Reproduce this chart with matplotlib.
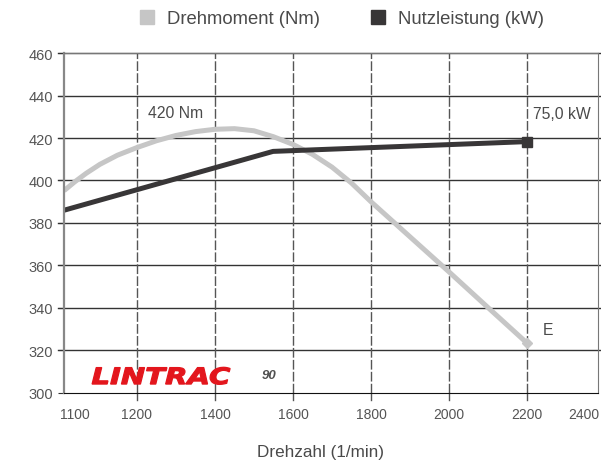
import matplotlib.pyplot as plt
from matplotlib.lines import Line2D
from matplotlib.textpath import TextPath
from matplotlib.patches import PathPatch
from matplotlib.font_manager import FontProperties
from matplotlib.transforms import Affine2D

plt.rcParams['font.family'] = ['Liberation Sans', 'DejaVu Sans']

# Drehmoment (Nm) over Drehzahl
rpm_torque = [1013, 1040, 1070, 1105, 1150, 1200, 1250, 1300, 1350, 1400, 1450,
              1500, 1550, 1600, 1650, 1700, 1750, 1800, 1900, 2000, 2100, 2200]
torque = [395.2, 399.3, 403.4, 407.6, 411.9, 415.5, 418.7, 421.2, 423.0, 424.1, 424.4,
          423.4, 420.6, 417.0, 412.3, 406.3, 398.8, 390.0, 373.5, 357.0, 340.2, 323.5]

# Nutzleistung curve (on the same scale)
rpm_power = [1013, 1549, 2200]
power = [386.0, 413.7, 418.3]

grid_x = [1200, 1400, 1600, 1800, 2000, 2200]
edge_x = [1041, 2346]
edge_labels = ['1100', '2400']
y_ticks = [300, 320, 340, 360, 380, 400, 420, 440, 460]

LIGHT = '#c6c6c6'
DARK = '#383637'
TXT = '#4a4a4a'

fig = plt.figure(figsize=(6.01, 4.64), dpi=100)
ax = fig.add_axes([0.1065, 0.1509, 0.8885, 0.7327])

ax.set_xlim(1013, 2382)
ax.set_ylim(300, 460)

# horizontal grid, running a bit past the frame
for y in y_ticks[1:]:
    ax.plot([-0.012, 1.02], [y, y], transform=ax.get_yaxis_transform(),
            color='#333333', lw=1.0, clip_on=False, zorder=1)
# vertical dashed grid, down through the bottom axis
for x in grid_x:
    ax.plot([x, x], [0, -0.02], transform=ax.get_xaxis_transform(),
            color='#555555', lw=1.0, clip_on=False, zorder=1)
    ax.axvline(x, color='#555555', lw=1.0, dashes=(7, 1.6), zorder=1)

ax.plot(rpm_torque, torque, color=LIGHT, lw=3.6, solid_capstyle='butt',
        solid_joinstyle='round', zorder=3)
ax.plot(rpm_torque[-1], torque[-1], marker='D', ms=5, color=LIGHT, zorder=3)
ax.plot(rpm_power, power, color=DARK, lw=3.6, solid_capstyle='butt', zorder=4)
ax.plot(rpm_power[-1], power[-1], marker='s', ms=7, color=DARK, zorder=4)

ax.text(1228, 432, '420 Nm', fontsize=11.3, color=TXT, va='center')
ax.text(2215, 431.5, '75,0 kW', fontsize=11.3, color=TXT, va='center')
ax.text(2241, 330, 'E', fontsize=11.3, color=TXT, va='center')

# logo, stretched a little wider than the plain font
fig.canvas.draw()
logo = TextPath((0, 0), 'LINTRAC', size=1,
                prop=FontProperties(family='DejaVu Sans', weight='bold', style='italic'))
bb = logo.get_extents()
x0, y0 = ax.transData.transform((1085, 304.2))
logo_tr = Affine2D().translate(-bb.x0, 0).scale(138 / bb.width, 16.5 / 0.73) + Affine2D().translate(x0, y0)
fig.patches.append(PathPatch(logo, transform=logo_tr, facecolor='#e3161d',
                             edgecolor='#e3161d', lw=0.9, zorder=6))
ax.text(1520, 308.5, '90', fontsize=9.5, color='#505050', fontweight='bold',
        fontstyle='italic', va='center')

ax.set_xticks(grid_x)
ax.set_xticklabels([str(v) for v in grid_x])
ax.set_xticks(edge_x, minor=True)
ax.set_xticklabels(edge_labels, minor=True)
ax.tick_params(axis='x', which='both', length=0, pad=10, labelsize=10, labelcolor='#555555')
ax.set_yticks(y_ticks)
ax.tick_params(axis='y', length=4, color='#333333', pad=4, labelsize=10.5, labelcolor='#555555')

ax.spines['left'].set_color('#888888')
ax.spines['left'].set_linewidth(1.6)
ax.spines['top'].set_color('#777777')
ax.spines['right'].set_color('#777777')
ax.spines['bottom'].set_color('#111111')
for s in ax.spines.values():
    s.set_zorder(5)

ax.set_xlabel('Drehzahl (1/min)', fontsize=12.3, color=TXT, labelpad=15)
ax.xaxis.set_label_coords(0.481, -0.15)

handles = [Line2D([], [], ls='none', marker='s', ms=10, color=LIGHT),
           Line2D([], [], ls='none', marker='s', ms=10, color=DARK)]
fig.legend(handles, ['Drehmoment (Nm)', 'Nutzleistung (kW)'], loc='center',
           bbox_to_anchor=(0.567, 0.958), ncol=2, frameon=False, fontsize=13.3,
           labelcolor=TXT, handletextpad=0.6, columnspacing=2.6, handlelength=1.0)

fig.savefig('out.png', dpi=100)
